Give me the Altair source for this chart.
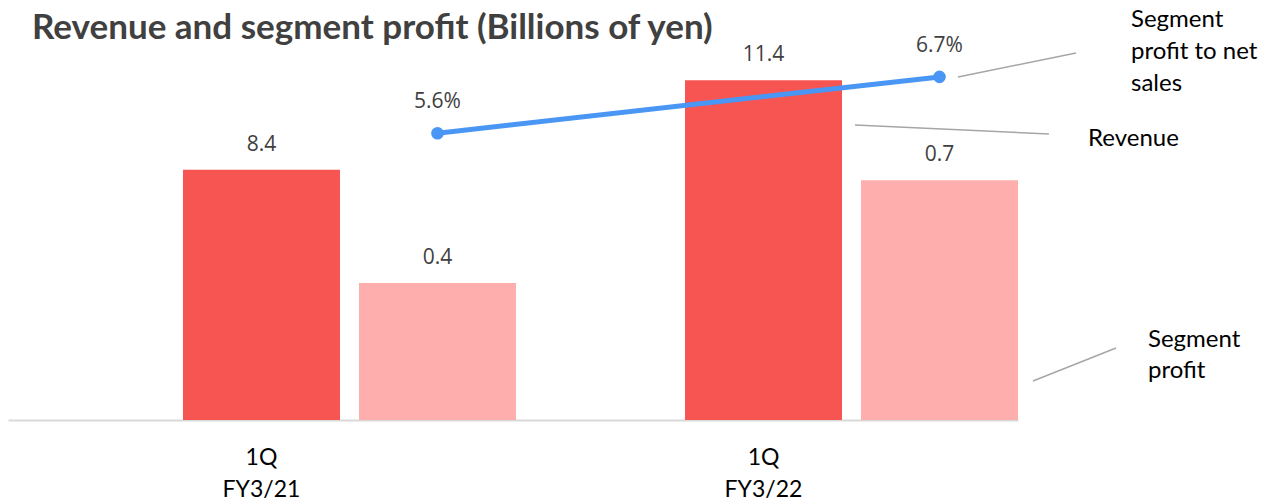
import altair as alt
import pandas as pd

# ---- data ----
quarters = ["1Q|FY3/21", "1Q|FY3/22"]
series_names = ["Revenue", "Segment profit"]
revenue = [8.4, 11.4]
segment_profit = [0.4, 0.7]
profit_ratio = [5.6, 6.7]
title_text = "Revenue and segment profit (Billions of yen)"

rev_df = pd.DataFrame({"quarter": quarters, "series": series_names[0], "value": revenue})
seg_df = pd.DataFrame({"quarter": quarters, "series": series_names[1], "value": segment_profit})
ratio_df = pd.DataFrame({
    "quarter": quarters,
    "series": series_names[1],
    "ratio": profit_ratio,
    "label": [f"{v:.1f}%" for v in profit_ratio],
})

RED = "#F75552"
PINK = "#FFAEAE"
BLUE = "#4A96F5"
GRAY = "#A6A6A6"
TXT = "#404040"
FONT = "Lato"
NUMFONT = "Open Sans"

x_enc = alt.X(
    "quarter:N",
    sort=quarters,
    scale=alt.Scale(paddingInner=0.3367, paddingOuter=0.1743, align=1),
    axis=alt.Axis(
        title=None, labelExpr="split(datum.label, '|')", labelAngle=0, ticks=False,
        labelOffset=-88, labelPadding=44, labelBaseline="alphabetic", labelLineHeight=32,
        labelFont=FONT, labelFontSize=23, labelColor="#000000",
        domainColor="#D9D9D9", domainWidth=2, grid=False,
    ),
)
xoff_enc = alt.XOffset(
    "series:N", scale=alt.Scale(domain=series_names, paddingInner=0.108, paddingOuter=0)
)
color_enc = alt.Color("series:N", scale=alt.Scale(domain=series_names, range=[RED, PINK]), legend=None)

y_rev = alt.Y("value:Q", scale=alt.Scale(domain=[0, 12.08], nice=False, zero=True), axis=None)
y_seg = alt.Y("value:Q", scale=alt.Scale(domain=[0, 1.051], nice=False, zero=True), axis=None)
y_rat = alt.Y("ratio:Q", scale=alt.Scale(domain=[0, 7.03], nice=False, zero=True), axis=None)

rev_base = alt.Chart(rev_df).encode(x=x_enc, xOffset=xoff_enc, y=y_rev)
seg_base = alt.Chart(seg_df).encode(x=x_enc, xOffset=xoff_enc, y=y_seg)
rat_base = alt.Chart(ratio_df).encode(x=x_enc, xOffset=xoff_enc, y=y_rat)

rev_bars = rev_base.mark_bar().encode(color=color_enc)
rev_text = rev_base.mark_text(font=NUMFONT, fontSize=21, color=TXT, dy=-25, baseline="middle").encode(
    text=alt.Text("value:Q", format=".1f"))
seg_bars = seg_base.mark_bar().encode(color=color_enc)
seg_text = seg_base.mark_text(font=NUMFONT, fontSize=21, color=TXT, dy=-25, baseline="middle").encode(
    text=alt.Text("value:Q", format=".1f"))

rat_line = rat_base.mark_line(color=BLUE, strokeWidth=5)
rat_pts = rat_base.mark_point(filled=True, size=160, color=BLUE, opacity=1)
rat_text = rat_base.mark_text(font=NUMFONT, fontSize=21, color=TXT, dy=-31, baseline="middle").encode(
    text="label:N")

# ---- title and annotation labels with leader lines ----
ann = alt.Chart(pd.DataFrame({"k": [0]}))
title_mark = ann.mark_text(text=title_text, align="left", baseline="alphabetic", font=FONT,
                           fontSize=35, fontWeight="bold", color=TXT
                           ).encode(x=alt.value(24), y=alt.value(-21))
lab_ratio = ann.mark_text(text="Segment\nprofit to net\nsales", lineBreak="\n", lineHeight=32,
                          align="left", baseline="alphabetic", font=FONT, fontSize=24, color="#000000"
                          ).encode(x=alt.value(1123), y=alt.value(-33))
lab_rev = ann.mark_text(text="Revenue", align="left", baseline="alphabetic", font=FONT, fontSize=24,
                        color="#000000").encode(x=alt.value(1080), y=alt.value(86))
lab_seg = ann.mark_text(text="Segment\nprofit", lineBreak="\n", lineHeight=31, align="left",
                        baseline="alphabetic", font=FONT, fontSize=24, color="#000000"
                        ).encode(x=alt.value(1140), y=alt.value(287))
lead_ratio = ann.mark_rule(color=GRAY, strokeWidth=1.5).encode(
    x=alt.value(950), x2=alt.value(1068), y=alt.value(17), y2=alt.value(-7))
lead_rev = ann.mark_rule(color=GRAY, strokeWidth=1.5).encode(
    x=alt.value(847), x2=alt.value(1041), y=alt.value(65), y2=alt.value(74))
lead_seg = ann.mark_rule(color=GRAY, strokeWidth=1.5).encode(
    x=alt.value(1025), x2=alt.value(1108), y=alt.value(321), y2=alt.value(288))

chart = alt.layer(
    rev_bars, seg_bars, rev_text, seg_text, rat_line, rat_pts, rat_text,
    lead_ratio, lead_rev, lead_seg, title_mark, lab_ratio, lab_rev, lab_seg,
).resolve_scale(y="independent").properties(
    width=1010,
    height=360,
    autosize=alt.AutoSizeParams(type="none"),
    padding={"left": 0, "top": 52, "right": 242, "bottom": 81},
    background="white",
).configure_view(stroke=None)

chart.save("out.html", embed_options={"renderer": "svg", "actions": False})
